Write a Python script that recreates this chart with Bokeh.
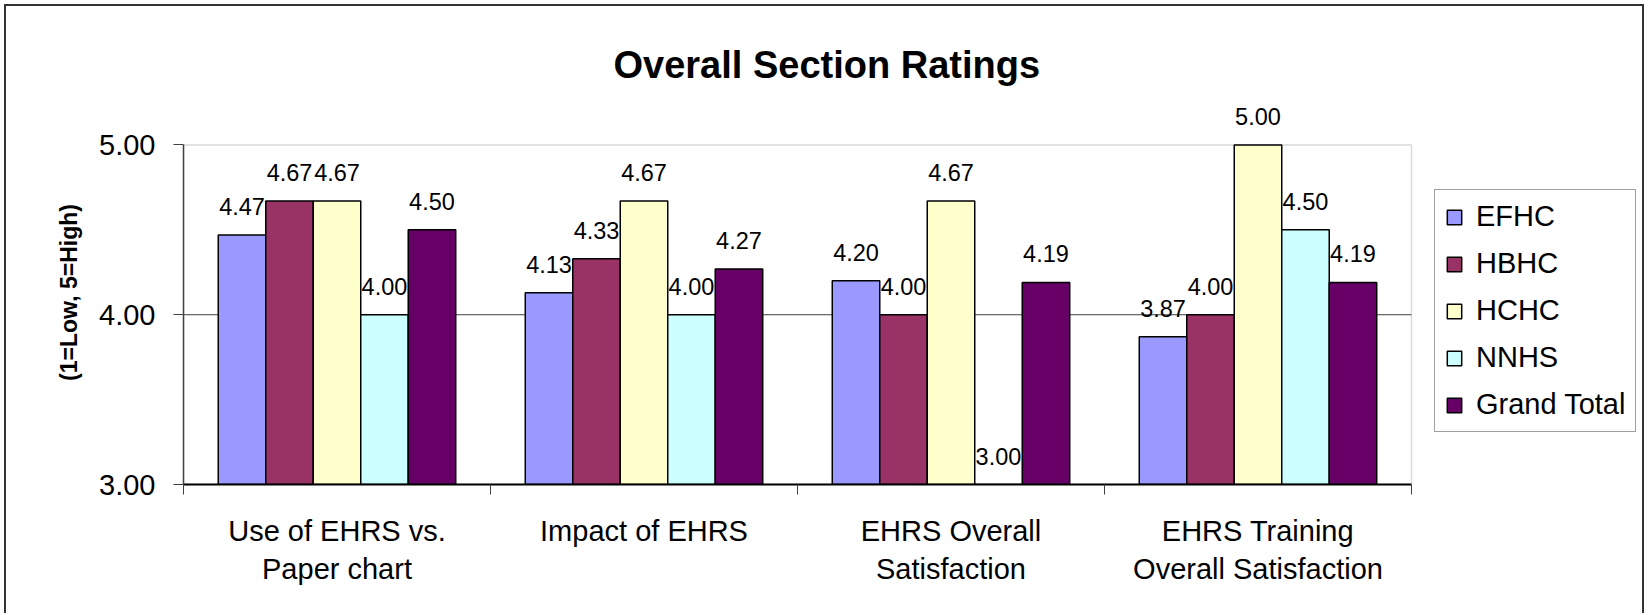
from bokeh.plotting import figure
from bokeh.models import (ColumnDataSource, Range1d, FixedTicker, NumeralTickFormatter,
                          Legend, LegendItem, LabelSet, BoxAnnotation)
from bokeh.core.properties import value
from bokeh.transform import dodge
from bokeh.embed import file_html
from bokeh.resources import INLINE

# ---- data -------------------------------------------------------------
categories = [
    "Use of EHRS vs.\nPaper chart",
    "Impact of EHRS",
    "EHRS Overall\nSatisfaction",
    "EHRS Training\nOverall Satisfaction",
]
series = ["EFHC", "HBHC", "HCHC", "NNHS", "Grand Total"]
efhc = [4.47, 4.13, 4.20, 3.87]
hbhc = [4.67, 4.33, 4.00, 4.00]
hchc = [4.67, 4.67, 4.67, 5.00]
nnhs = [4.00, 4.00, 3.00, 4.50]
grand_total = [4.50, 4.27, 4.19, 4.19]
y_ticks = [3.0, 4.0, 5.0]

colors = ["#9999FF", "#993366", "#FFFFCC", "#CCFFFF", "#660066"]
FONT = "Liberation Sans"

values = [efhc, hbhc, hchc, nnhs, grand_total]
n_cat = len(categories)
centers = [i + 0.5 for i in range(n_cat)]
bounds = list(range(n_cat + 1))

data = {"xc": centers}
for name, vals in zip(series, values):
    data[name] = vals
    data[name + "_lbl"] = [f"{v:.2f}" for v in vals]
src = ColumnDataSource(data)

# ---- figure -----------------------------------------------------------
# The frame extends above the top tick and to the right of the last category,
# leaving room inside it for the top value labels and for the legend.
y_top = y_ticks[-1] + 0.262
x_end = n_cat + 0.7655
p = figure(width=1640, height=609, output_backend="svg", toolbar_location=None,
           x_range=Range1d(0, x_end), y_range=Range1d(y_ticks[0], y_top))
p.min_border_left = 177
p.min_border_right = 0
p.min_border_top = 94
p.min_border_bottom = 131
p.background_fill_color = "white"
p.border_fill_color = "white"
p.outline_line_color = None
# chart-area border (open at the bottom edge of the window)
p.styles = {
    "margin-left": "4px",
    "margin-top": "4px",
    "border-left": "2px solid #333333",
    "border-top": "2px solid #333333",
    "border-right": "2px solid #333333",
}

# plot-area border
p.add_layout(BoxAnnotation(left=bounds[0], right=bounds[-1], bottom=y_ticks[0], top=y_ticks[-1],
                           fill_alpha=0, line_color="#808080", line_width=1.5,
                           level="underlay"))

# inner value gridline(s), limited to the category span
grid_src = ColumnDataSource(dict(y=y_ticks[1:-1]))
p.segment(x0=bounds[0], x1=bounds[-1], y0="y", y1="y", source=grid_src,
          line_color="#404040", line_width=1, level="underlay")

# title
p.title.text = "Overall Section Ratings"
p.title.align = "left"
p.title.offset = 430
p.title.standoff = 29
p.title.text_font = FONT
p.title.text_font_size = "38px"
p.title.text_font_style = "bold"
p.title.text_color = "black"

p.xgrid.visible = False
p.ygrid.visible = False

# y axis
ya = p.yaxis[0]
ya.bounds = (y_ticks[0], y_ticks[-1])
ya.ticker = FixedTicker(ticks=y_ticks, minor_ticks=[])
ya.formatter = NumeralTickFormatter(format="0.00")
ya.axis_line_color = "#404040"
ya.axis_line_width = 1.5
ya.major_tick_out = 10
ya.major_tick_in = 0
ya.major_tick_line_color = "#404040"
ya.minor_tick_line_color = None
ya.major_label_standoff = 18
ya.major_label_text_font = FONT
ya.major_label_text_font_size = "29px"
ya.major_label_text_color = "black"
ya.axis_label = "(1=Low, 5=High)"
ya.axis_label_text_font = FONT
ya.axis_label_text_font_size = "23px"
ya.axis_label_text_font_style = "bold"
ya.axis_label_text_color = "black"
ya.axis_label_standoff = 14

# x axis: labels at category centres, tick marks at category boundaries
xa = p.xaxis[0]
xa.bounds = (bounds[0], bounds[-1])
xa.ticker = FixedTicker(ticks=centers, minor_ticks=bounds)
xa.major_label_overrides = {c: lab for c, lab in zip(centers, categories)}
xa.axis_line_color = "black"
xa.axis_line_width = 2
xa.major_tick_out = 0
xa.major_tick_in = 0
xa.major_tick_line_color = None
xa.minor_tick_out = 10
xa.minor_tick_in = 0
xa.minor_tick_line_color = "#404040"
xa.minor_tick_line_width = 1
xa.major_label_standoff = 20
xa.major_label_text_font = FONT
xa.major_label_text_font_size = "29px"
xa.major_label_text_color = "black"
xa.major_label_text_line_height = 1.2

# bars and value labels
bar_w = 0.1547
items = []
for k, (name, col) in enumerate(zip(series, colors)):
    off = (k - (len(series) - 1) / 2) * bar_w
    r = p.vbar(x=dodge("xc", off), top=name, bottom=y_ticks[0], width=bar_w,
               source=src, fill_color=col, line_color="black", line_width=1.5)
    items.append(LegendItem(label=name, renderers=[r]))
    p.add_layout(LabelSet(x=dodge("xc", off), y=name, text=name + "_lbl", source=src,
                          y_offset=20, text_align="center", text_baseline="alphabetic",
                          text_font=value(FONT), text_font_size=value("23.5px"),
                          text_color="black"))

legend = Legend(items=items, location=(1251, 52))
legend.label_text_font = FONT
legend.label_text_font_size = "29px"
legend.label_text_color = "black"
legend.glyph_width = 18
legend.glyph_height = 18
legend.label_standoff = 13
legend.label_height = 20
legend.spacing = 14
legend.padding = 10
legend.margin = 0
legend.border_line_color = "#404040"
legend.border_line_width = 1
legend.background_fill_color = "white"
legend.background_fill_alpha = 1
p.add_layout(legend)

open("out.html", "w").write(file_html(p, INLINE))
